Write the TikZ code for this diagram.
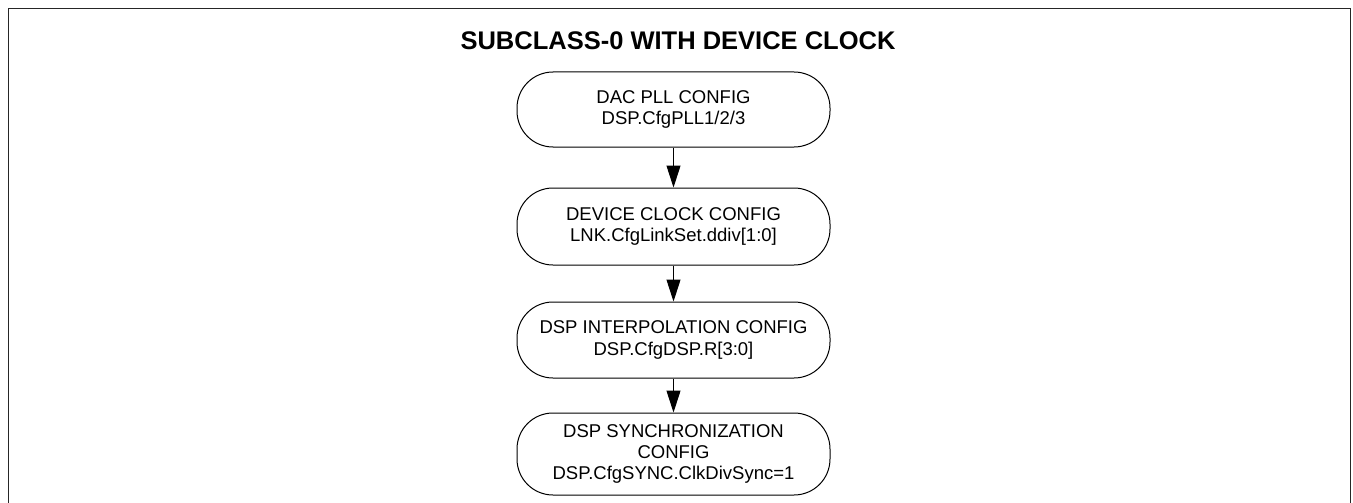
\documentclass[tikz,border=0pt]{standalone}
\usepackage{fontspec}
\setmainfont{Liberation Sans}
\usetikzlibrary{arrows.meta}
\begin{document}
\begin{tikzpicture}[x=1pt,y=-1pt,
  stepbox/.style={draw=black,line width=1pt,rounded corners=36pt,minimum width=313pt,
    align=center,font=\fontsize{18.5}{21.4}\selectfont,inner sep=0pt},
  flow/.style={draw=black,line width=1pt,-{Triangle[length=22pt,width=14pt]}}]
\useasboundingbox (0,0) rectangle (1353,503);
\draw[line width=1.8pt,draw=black!85] (8.5,520) -- (8.5,8.5) -- (1350.5,8.5) -- (1350.5,520);
\node (title) at (678,41) {\fontsize{25.5}{30}\selectfont\bfseries SUBCLASS-0 WITH DEVICE CLOCK};
\node[stepbox,minimum height=75pt] (b1) at (673.5,109.5) {DAC PLL CONFIG\\DSP.CfgPLL1/2/3};
\node[stepbox,minimum height=77pt] (b2) at (673.5,226.5) {DEVICE CLOCK CONFIG\\LNK.CfgLinkSet.ddiv[1:0]};
\node[stepbox,minimum height=76pt] (b3) at (673.5,340) {DSP INTERPOLATION CONFIG\\DSP.CfgDSP.R[3:0]};
\node[stepbox,minimum height=82pt] (b4) at (673.5,454) {DSP SYNCHRONIZATION\\CONFIG\\DSP.CfgSYNC.ClkDivSync=1};
\draw[flow] (b1) -- (b2);
\draw[flow] (b2) -- (b3);
\draw[flow] (b3) -- (b4);
\end{tikzpicture}
\end{document}
